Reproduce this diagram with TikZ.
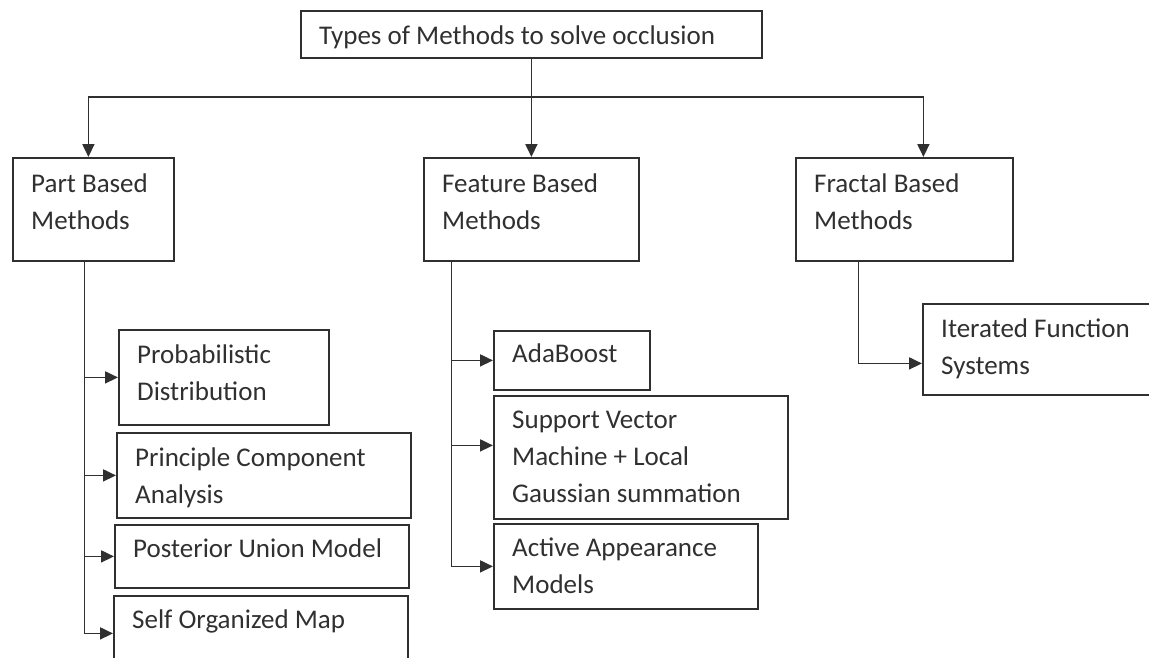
\documentclass[tikz,border=0pt]{standalone}
\usepackage{fontspec}
\setmainfont{Carlito}
\usetikzlibrary{arrows.meta}
\definecolor{ink}{RGB}{48,48,48}
\tikzset{box/.style={draw=ink, line width=1.8pt, anchor=north west, inner sep=0pt},
  txt/.style={anchor=north west, align=left, inner sep=0pt, text=ink, font=\fontsize{27}{37}\selectfont},
  link/.style={draw=ink, line width=1.8pt},
  arr/.style={link, -{Triangle[length=13pt,width=12pt]}}}

\begin{document}
\begin{tikzpicture}[x=1pt, y=-1pt]
    \useasboundingbox (0,0) rectangle (1149,657);
    % root
    \node [box, minimum width=461, minimum height=47] (types) at (300,10) {};
    \node [txt] (typest) at ([shift={(19,16)}]types.north west) {Types of Methods to solve occlusion};
    % three families
    \node [box, minimum width=161, minimum height=103] (part) at (12,157) {};
    \node [txt] (partt) at ([shift={(19,17)}]part.north west) {Part Based\\Methods};
    \node [box, minimum width=215, minimum height=103] (feat) at (423,157) {};
    \node [txt] (featt) at ([shift={(19,17)}]feat.north west) {Feature Based\\Methods};
    \node [box, minimum width=217, minimum height=103] (frac) at (795,157) {};
    \node [txt] (fract) at ([shift={(19,17)}]frac.north west) {Fractal Based\\Methods};
    % part based
    \node [box, minimum width=210, minimum height=95] (pd) at (118,329) {};
    \node [txt] (pdt) at ([shift={(19,16)}]pd.north west) {Probabilistic\\Distribution};
    \node [box, minimum width=294, minimum height=85] (pca) at (116,432) {};
    \node [txt] (pcat) at ([shift={(19,16)}]pca.north west) {Principle Component\\Analysis};
    \node [box, minimum width=294, minimum height=63] (pum) at (114,524) {};
    \node [txt] (pumt) at ([shift={(19,15)}]pum.north west) {Posterior Union Model};
    \node [box, minimum width=294, minimum height=75] (som) at (113,595) {};
    \node [txt] (somt) at ([shift={(19,15)}]som.north west) {Self Organized Map};
    % feature based
    \node [box, minimum width=156, minimum height=59] (ada) at (493,330) {};
    \node [txt] (adat) at ([shift={(19,14)}]ada.north west) {AdaBoost};
    \node [box, minimum width=294, minimum height=123] (svm) at (493,395) {};
    \node [txt] (svmt) at ([shift={(19,16)}]svm.north west) {Support Vector\\Machine + Local\\Gaussian summation};
    \node [box, minimum width=264, minimum height=85] (aam) at (493,523) {};
    \node [txt] (aamt) at ([shift={(19,15)}]aam.north west) {Active Appearance\\Models};
    % fractal based
    \node [box, minimum width=240, minimum height=91] (ifs) at (922,303) {};
    \node [txt] (ifst) at ([shift={(19,16)}]ifs.north west) {Iterated Function\\Systems};

    \coordinate (hub) at (types.south |- 0,97);
    \draw [link] (types.south) -- (hub);
    \draw [arr] (hub) -| ([xshift=-5]part.north);
    \draw [arr] (hub) -- (feat.north);
    \draw [arr] (hub) -| ([xshift=19]frac.north);

    \coordinate (pspine) at ([xshift=-9]part.south);
    \draw [arr] (pspine) |- (som.west);
    \foreach \b in {pd,pca,pum}
      \draw [arr] (pspine |- \b.west) -- (\b.west);

    \coordinate (fspine) at ([xshift=-80]feat.south);
    \coordinate (svmin) at ([yshift=12]svm.west);
    \draw [arr] (fspine) |- (aam.west);
    \draw [arr] (fspine |- ada.west) -- (ada.west);
    \draw [arr] (fspine |- svmin) -- (svmin);

    \coordinate (xspine) at ([xshift=-46]frac.south);
    \draw [arr] (xspine) |- ([yshift=-14]ifs.west);
\end{tikzpicture}
\end{document}
